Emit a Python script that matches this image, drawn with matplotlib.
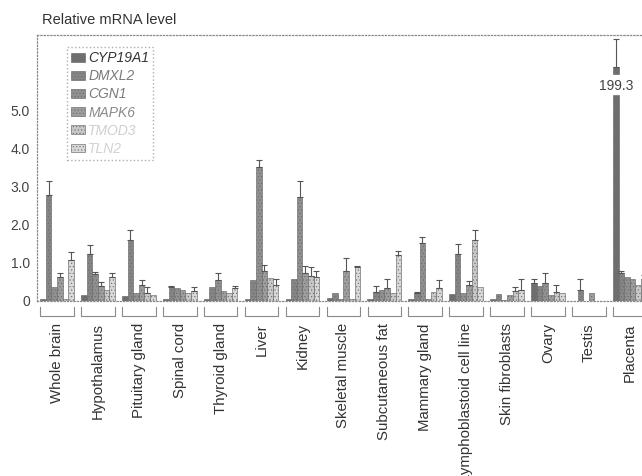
import matplotlib.pyplot as plt
import numpy as np
from matplotlib.transforms import blended_transform_factory

plt.rcParams['font.family'] = ['Liberation Sans', 'DejaVu Sans']
plt.rcParams['hatch.linewidth'] = 0.4

# tissues (x groups)
tissues = ['Whole brain', 'Hypothalamus', 'Pituitary gland', 'Spinal cord', 'Thyroid gland',
           'Liver', 'Kidney', 'Skeletal muscle', 'Subcutaneous fat', 'Mammary gland',
           'Lymphoblastoid cell line', 'Skin fibroblasts', 'Ovary', 'Testis', 'Placenta']

genes = ['CYP19A1', 'DMXL2', 'CGN1', 'MAPK6', 'TMOD3', 'TLN2']

# relative mRNA level per gene
cyp19a1 = [0.05, 0.15, 0.12, 0.05, 0.05, 0.05, 0.05, 0.08, 0.05, 0.05, 0.18, 0.06, 0.47, 0.0, 199.3]
dmxl2 = [2.8, 1.24, 1.6, 0.37, 0.37, 0.55, 0.58, 0.2, 0.25, 0.22, 1.25, 0.18, 0.4, 0.3, 0.75]
cgn1 = [0.38, 0.72, 0.2, 0.33, 0.55, 3.53, 2.74, 0.05, 0.3, 1.52, 0.22, 0.02, 0.47, 0.0, 0.62]
mapk6 = [0.62, 0.4, 0.43, 0.28, 0.27, 0.8, 0.73, 0.8, 0.33, 0.05, 0.42, 0.17, 0.15, 0.2, 0.58]
tmod3 = [0.05, 0.3, 0.22, 0.2, 0.2, 0.6, 0.65, 0.05, 0.2, 0.25, 1.6, 0.26, 0.25, 0.0, 0.42]
tln2 = [1.08, 0.63, 0.15, 0.27, 0.33, 0.42, 0.62, 0.89, 1.2, 0.33, 0.37, 0.3, 0.22, 0.0, 0.58]

# upper error (SD)
cyp19a1_err = [0, 0, 0, 0, 0, 0, 0, 0, 0, 0, 0, 0, 0.12, 0, 0.73]
dmxl2_err = [0.37, 0.23, 0.26, 0.02, 0, 0, 0, 0, 0.14, 0.03, 0.24, 0, 0, 0.28, 0.03]
cgn1_err = [0, 0.05, 0, 0, 0.19, 0.17, 0.42, 0, 0, 0.17, 0, 0, 0.27, 0, 0]
mapk6_err = [0.13, 0.1, 0.12, 0, 0, 0.15, 0.19, 0.33, 0.25, 0, 0.1, 0, 0, 0, 0]
tmod3_err = [0, 0, 0.15, 0, 0, 0, 0.25, 0, 0, 0, 0.27, 0.1, 0.17, 0, 0]
tln2_err = [0.22, 0.12, 0, 0.11, 0.07, 0.15, 0.18, 0.03, 0.12, 0.22, 0, 0.28, 0, 0, 0.1]

series = [cyp19a1, dmxl2, cgn1, mapk6, tmod3, tln2]
errors = [cyp19a1_err, dmxl2_err, cgn1_err, mapk6_err, tmod3_err, tln2_err]
colors = ['#6f6f6f', '#858585', '#909090', '#9d9d9d', '#c9c9c9', '#d9d9d9']
text_colors = ['#333333', '#7a7a7a', '#7a7a7a', '#8a8a8a', '#cfcfcf', '#d2d2d2']

# axis break for the off-scale placenta bar
break_low, break_high, stub = 5.42, 5.97, 0.2

fig = plt.figure(figsize=(6.42, 4.76), dpi=100)
ax = fig.add_axes([37 / 642, 1 - 301 / 476, 1 - 37 / 642, 266 / 476])

x = np.arange(len(tissues))
w = 0.137
for j in range(len(genes)):
    vals = np.array(series[j], dtype=float)
    errs = np.array(errors[j], dtype=float)
    pos = x + (j - 2.5) * w
    shown = np.minimum(vals, break_low)
    ax.bar(pos, shown, w, color=colors[j], edgecolor='#6a6a6a', linewidth=0.45,
           hatch='.....', label=genes[j], zorder=2)
    ok = (errs > 0) & (vals < break_low)
    ax.errorbar(pos[ok], shown[ok], yerr=[np.zeros(ok.sum()), errs[ok]], fmt='none',
                ecolor='#555555', elinewidth=0.8, capsize=2, capthick=0.8, zorder=3)
    big = vals > break_low
    for p, v, e in zip(pos[big], vals[big], errs[big]):
        ax.bar(p, stub, w, bottom=break_high, color=colors[j], edgecolor='#6a6a6a',
               linewidth=0.45, hatch='.....', zorder=2)
        ax.errorbar([p], [break_high + stub], yerr=[[0], [e]], fmt='none',
                    ecolor='#555555', elinewidth=0.8, capsize=2, capthick=0.8, zorder=3)
        ax.text(p, (break_low + break_high) / 2 - 0.05, f'{v:.1f}', ha='center', va='center',
                fontsize=10, color='#444444',
                bbox=dict(facecolor='white', edgecolor='none', pad=0.5), zorder=4)

ax.set_xlim(-0.49, 14.30)
ax.set_ylim(0, 7.0)
ax.set_yticks([0, 1, 2, 3, 4, 5])
ax.set_yticklabels(['0', '1.0', '2.0', '3.0', '4.0', '5.0'])
ax.set_xticks(x)
ax.set_xticklabels(tissues, rotation=90)
ax.tick_params(axis='x', length=0, pad=16, labelsize=10.8, labelcolor='#333333')
ax.tick_params(axis='y', length=0, pad=5, labelsize=10, labelcolor='#444444')

for s in ['left', 'top', 'bottom']:
    ax.spines[s].set_linestyle(':')
    ax.spines[s].set_color('#8a8a8a')
    ax.spines[s].set_linewidth(0.9)
ax.spines['right'].set_visible(False)

# group brackets under the axis
trans = blended_transform_factory(ax.transData, ax.transAxes)
for i in x:
    ax.plot([i - 0.41, i - 0.41, i + 0.41, i + 0.41], [-0.024, -0.058, -0.058, -0.024],
            transform=trans, clip_on=False, color='#8a8a8a', lw=0.8)

leg = ax.legend(loc='upper left', bbox_to_anchor=(0.05, 0.955), borderaxespad=0,
                fontsize=10, labelspacing=0.3, handlelength=1.0, handleheight=0.6,
                handletextpad=0.2, fancybox=False, borderpad=0.3)
leg.get_frame().set_linestyle(':')
leg.get_frame().set_edgecolor('#9a9a9a')
for t, c in zip(leg.get_texts(), text_colors):
    t.set_color(c)
    t.set_style('italic')

fig.text(42 / 642, 1 - 20 / 476, 'Relative mRNA level', fontsize=10.5, color='#333333',
         va='center', ha='left')

fig.savefig('out.png', dpi=100)
